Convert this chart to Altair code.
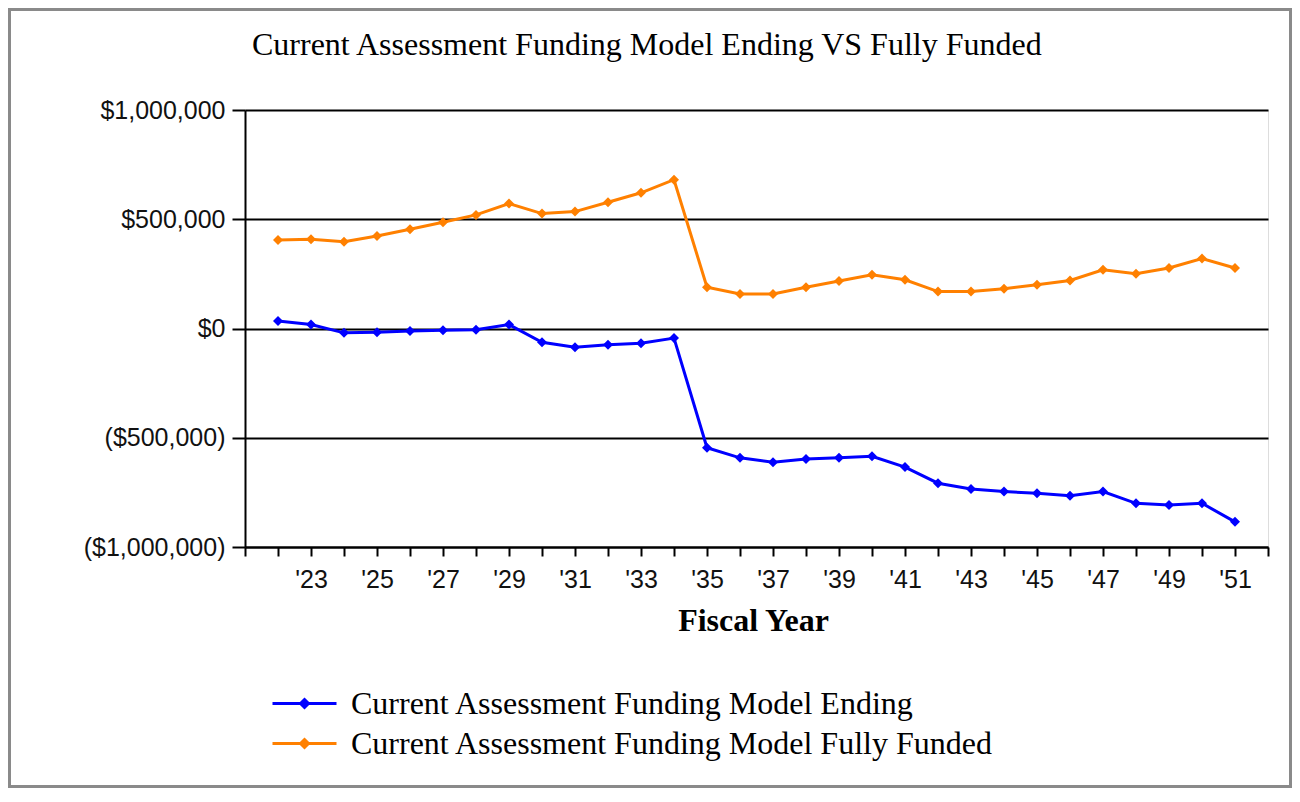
import altair as alt
import pandas as pd

# ---- data ----
years = list(range(2022, 2052))
ending = [34000, 18000, -20000, -17000, -12000, -8000, -6000, 18000, -63000, -86000,
          -74000, -67000, -44000, -546000, -592000, -612000, -597000, -592000, -585000,
          -634000, -708000, -735000, -746000, -754000, -765000, -746000, -800000,
          -808000, -800000, -885000]
fully_funded = [405000, 408000, 397000, 423000, 454000, 486000, 520000, 572000, 526000,
                535000, 578000, 621000, 681000, 189000, 158000, 158000, 189000, 217000,
                246000, 223000, 169000, 169000, 182000, 200000, 220000, 269000, 251000,
                277000, 320000, 277000]
series_names = ["Current Assessment Funding Model Ending",
                "Current Assessment Funding Model Fully Funded"]
series_colors = ["#0000FF", "#FF8000"]
y_ticks = [-1000000, -500000, 0, 500000, 1000000]
x_ticks = list(range(2021, 2053))
title_text = "Current Assessment Funding Model Ending VS Fully Funded"
x_title = "Fiscal Year"

rows = []
for y, e, f in zip(years, ending, fully_funded):
    rows.append({"year": y, "value": e, "series": series_names[0]})
    rows.append({"year": y, "value": f, "series": series_names[1]})
df = pd.DataFrame(rows)

# ---- layout ----
W, H = 1023, 437
PL, PT, PR, PB = 237, 102, 24, 241

LEGEND_PATH = "M-2,0L2,0M0,-0.25L0.25,0L0,0.25L-0.25,0Z"

x_enc = alt.X(
    "year:Q",
    scale=alt.Scale(domain=[2021, 2052], nice=False, zero=False),
    axis=alt.Axis(
        values=x_ticks,
        labelExpr="(datum.value % 2 == 1 && datum.value >= 2023 && datum.value <= 2051) ? \"'\" + substring(toString(datum.value), 2, 4) : ''",
        title=x_title,
        titleFont="Liberation Serif",
        titleFontSize=32,
        titleFontWeight="bold",
        titleColor="black",
        titlePadding=13,
        titleX=508,
        labelFont="Liberation Sans",
        labelFontSize=25,
        labelColor="#111111",
        labelPadding=11,
        labelFlush=False,
        labelOverlap=False,
        tickSize=9,
        tickWidth=2,
        tickColor="black",
        domainColor="black",
        domainWidth=2,
        grid=False,
    ),
)
y_enc = alt.Y(
    "value:Q",
    scale=alt.Scale(domain=[-1000000, 1000000], nice=False),
    axis=alt.Axis(
        values=y_ticks,
        labelExpr="datum.value < 0 ? '($' + format(-datum.value, ',') + ')' : '$' + format(datum.value, ',')",
        title=None,
        labelFont="Liberation Sans",
        labelFontSize=25,
        labelColor="#111111",
        labelPadding=7,
        tickSize=13,
        tickWidth=2,
        tickColor="black",
        domainColor="black",
        domainWidth=2,
        grid=True,
        gridColor="black",
        gridWidth=2,
        gridOpacity=1,
    ),
)
color_enc = alt.Color(
    "series:N",
    scale=alt.Scale(domain=series_names, range=series_colors),
    legend=alt.Legend(
        title=None,
        orient="none",
        legendX=26,
        legendY=576,
        direction="vertical",
        symbolType=LEGEND_PATH,
        symbolSize=1024,
        symbolStrokeWidth=3,
        symbolOffset=16,
        labelFont="Liberation Serif",
        labelFontSize=32,
        labelColor="black",
        labelOffset=29,
        labelLimit=0,
        rowPadding=6,
        padding=0,
    ),
)

base = alt.Chart(df).encode(x=x_enc, y=y_enc, color=color_enc)
lines = base.mark_line(strokeWidth=3)
points = base.mark_point(shape="diamond", size=100, filled=True, opacity=1)

frame = alt.Chart(pd.DataFrame({"k": [0]})).mark_rect(
    fillOpacity=0, stroke="#8a8a8a", strokeWidth=3
).encode(
    x=alt.value(-PL + 1.5),
    x2=alt.value(W + PR - 1.5),
    y=alt.value(-PT + 1.5),
    y2=alt.value(H + PB - 1.5),
)

chart = alt.layer(lines, points, frame).properties(
    width=W,
    height=H,
    padding={"left": PL, "top": PT, "right": PR, "bottom": PB},
    autosize=alt.AutoSizeParams(type="none"),
    title=alt.TitleParams(
        text=title_text,
        font="Liberation Serif",
        fontSize=32,
        fontWeight="normal",
        color="black",
        anchor="start",
        frame="group",
        dx=7,
        offset=-79,
        baseline="alphabetic",
    ),
).configure_view(stroke=None).configure(background="white")

chart.save("out.html", embed_options={"renderer": "svg", "actions": False})
